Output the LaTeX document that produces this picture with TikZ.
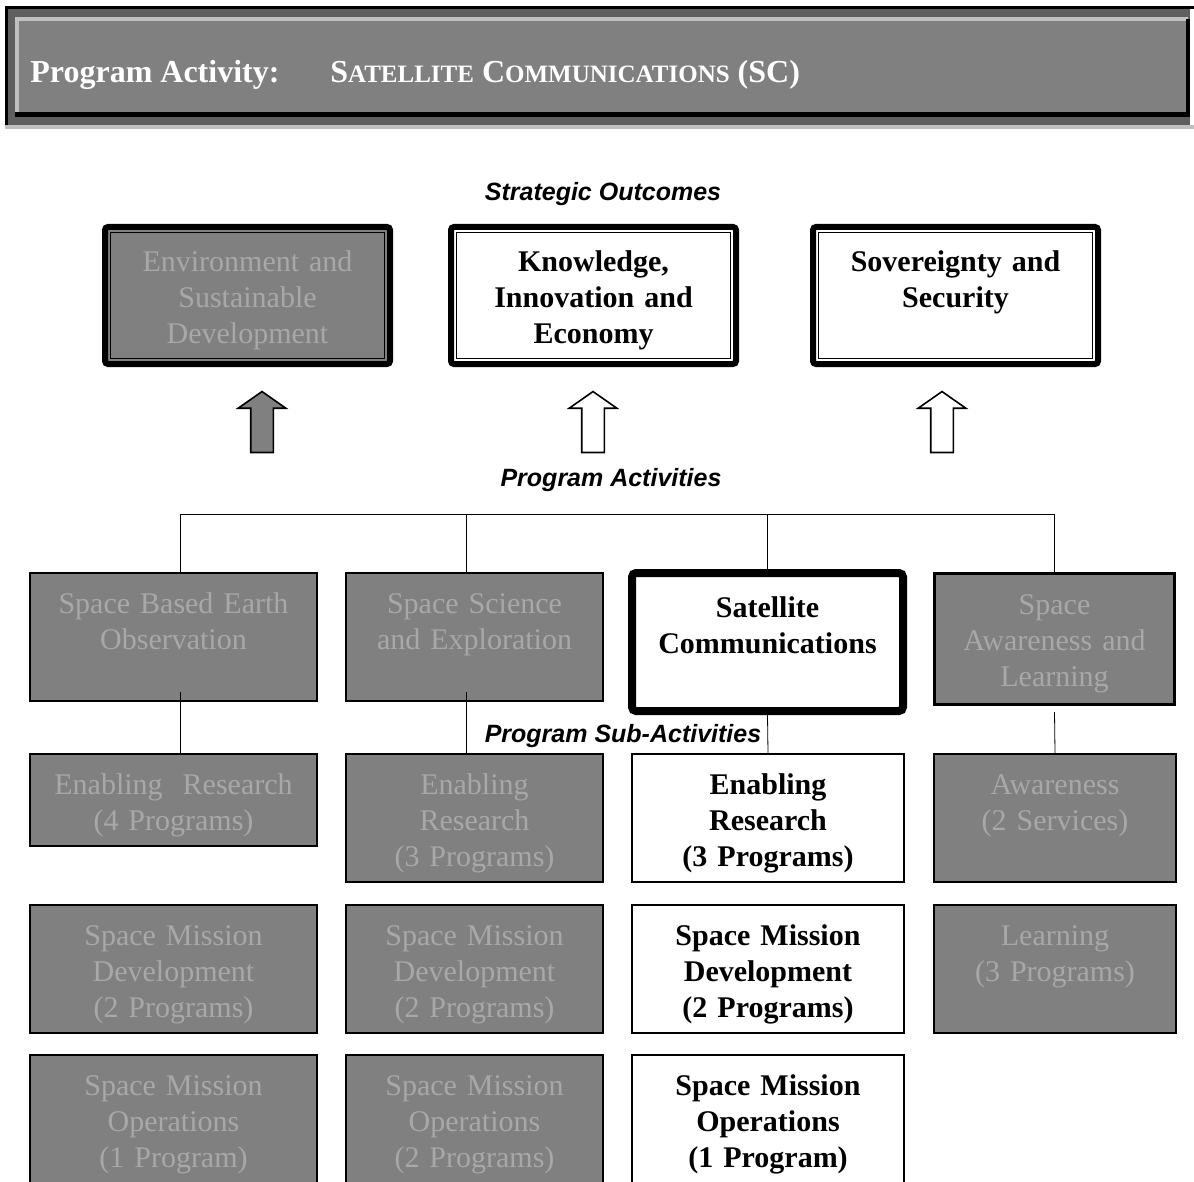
\documentclass[tikz,border=0pt]{standalone}
\usepackage{fontspec}
\setmainfont{Liberation Serif}
\setsansfont{Liberation Sans}
\usepackage{xcolor}
\usetikzlibrary{shapes.arrows, positioning}
\definecolor{boxgray}{HTML}{808080}
\definecolor{fadegray}{HTML}{A8A8A8}
\definecolor{hdark}{HTML}{5F5F5F}
\definecolor{hlight}{HTML}{C0C0C0}
\newcommand{\smcap}[1]{{\fontsize{12.5}{15}\selectfont #1}}
\tikzset{
    outcome/.style={draw, line width=3pt, rounded corners=1.5pt, anchor=north west, align=center, inner sep=0pt, text width=142.5pt, text height=22pt, text depth=46.5pt, font=\fontsize{15}{18}\selectfont\bfseries},
    activity/.style={draw, line width=1pt, fill=boxgray, text=fadegray, anchor=north west, align=center, inner sep=0pt, text height=20pt, text depth=44pt, font=\fontsize{15}{18}\selectfont},
    current/.style={fill=white, text=black, font=\fontsize{15}{18}\selectfont\bfseries},
    heading/.style={font=\fontsize{12.5}{15}\selectfont\sffamily\bfseries\itshape},
    uparrow/.style={single arrow, draw, line width=0.8pt, shape border rotate=90, minimum height=30.5pt, minimum width=23pt, single arrow head extend=6.25pt, single arrow tip angle=110, inner sep=5.25pt},
}

\begin{document}
\begin{tikzpicture}[x=0.5pt, y=-0.5pt]

    \useasboundingbox (0,0) rectangle (1194,1182);
    \clip (0,0) rectangle (1194,1182);

    % Header
    \fill[hdark] (5,6) rectangle (1190,125);
    \draw[line width=1.5pt] (5,7.5) -- (1194,7.5);
    \draw[line width=1.5pt] (6.5,6) -- (6.5,125);
    \draw[hlight, line width=1.8pt] (5,127) -- (1194,127);
    \fill[boxgray] (17,19) rectangle (1188,115);
    \draw[hlight, line width=2pt] (15,19) -- (1188,19);
    \draw[hlight, line width=2pt] (17,19) -- (17,115);
    \draw[line width=2.2pt] (15,114.5) -- (1190,114.5);
    \draw[line width=2.2pt] (1188,19) -- (1188,117);
    \node[anchor=base west, inner sep=0pt, text=white, font=\fontsize{16}{19}\selectfont\bfseries] (patitle) at (30,83) {Program Activity:};
    \node[base right=25pt of patitle, inner sep=0pt, text=white, font=\fontsize{16}{19}\selectfont\bfseries] (paname) {S\smcap{ATELLITE} C\smcap{OMMUNICATIONS} (SC)};

    % Strategic outcomes
    \node[heading] (sohead) at (603,194) {Strategic Outcomes};
    \node[outcome, fill=boxgray, text=fadegray, font=\fontsize{15}{18}\selectfont] (env) at (102,224) {Environment and\\ Sustainable\\ Development};
    \node[outcome, fill=white] (kie) at (448,224) {Knowledge,\\ Innovation and\\ Economy};
    \node[outcome, fill=white] (sov) at (810,224) {Sovereignty and\\ Security};
    \foreach \n in {env,kie,sov}
        \draw[line width=0.8pt] ([shift={(4.2pt,-4.2pt)}]\n.north west) rectangle ([shift={(-4.2pt,4.2pt)}]\n.south east);

    \node[uparrow, fill=boxgray] (arrenv) at (262,426) {};
    \node[uparrow, fill=white] (arrkie) at (593,426) {};
    \node[uparrow, fill=white] (arrsov) at (942,426) {};

    % Program activities
    \node[heading] (pahead) at (611,480) {Program Activities};
    \coordinate (bus) at (0,514);
    \coordinate (col1) at (180,0);
    \coordinate (col2) at (466,0);
    \node[activity, text width=143.5pt] (sbeo) at (29,572) {Space Based Earth\\ Observation};
    \node[activity, text width=128.5pt] (sse) at (345,572) {Space Science\\ and Exploration};
    \node[activity, current, line width=4pt, rounded corners=2pt, text width=135.5pt, text height=22pt, text depth=47pt] (satc) at (628,569) {Satellite\\ Communications};
    \node[activity, line width=1.5pt, text width=120pt, text height=20.5pt, text depth=45pt] (sal) at (933,572) {Space\\ Awareness and\\ Learning};

    \draw (col1 |- sbeo.north) |- (sal.north |- bus) -- (sal.north);
    \draw (col2 |- sse.north) -- (col2 |- bus);
    \draw (satc.north) -- (satc.north |- bus);

    % Program sub-activities
    \node[heading] (sahead) at (623,736) {Program Sub-Activities};
    \node[activity, text width=143.5pt, text depth=26pt] (er1) at (29,753) {Enabling~ Research\\ (4 Programs)};
    \node[activity, text width=128.5pt] (er2) at (345,753) {Enabling\\ Research\\ (3 Programs)};
    \node[activity, current, text width=136pt] (er3) at (631,753) {Enabling\\ Research\\ (3 Programs)};
    \node[activity, text width=121pt] (aware) at (933,753) {Awareness\\ (2 Services)};

    \node[activity, text width=143.5pt] (smd1) at (29,904) {Space Mission\\ Development\\ (2 Programs)};
    \node[activity, text width=128.5pt] (smd2) at (345,904) {Space Mission\\ Development\\ (2 Programs)};
    \node[activity, current, text width=136pt] (smd3) at (631,904) {Space Mission\\ Development\\ (2 Programs)};
    \node[activity, text width=121pt] (learn) at (933,904) {Learning\\ (3 Programs)};

    \node[activity, text width=143.5pt, text depth=50pt] (smo1) at (29,1054) {Space Mission\\ Operations\\ (1 Program)};
    \node[activity, text width=128.5pt, text depth=50pt] (smo2) at (345,1054) {Space Mission\\ Operations\\ (2 Programs)};
    \node[activity, current, text width=136pt, text depth=50pt] (smo3) at (631,1054) {Space Mission\\ Operations\\ (1 Program)};

    \draw (col1 |- sbeo.south) ++(0,-10) -- (col1 |- er1.north);
    \draw (col2 |- sse.south) ++(0,-10) -- (col2 |- er2.north);
    \draw (satc.south) -- (er3.north);
    \draw (sal.south) ++(0,6) -- (aware.north);

\end{tikzpicture}
\end{document}
